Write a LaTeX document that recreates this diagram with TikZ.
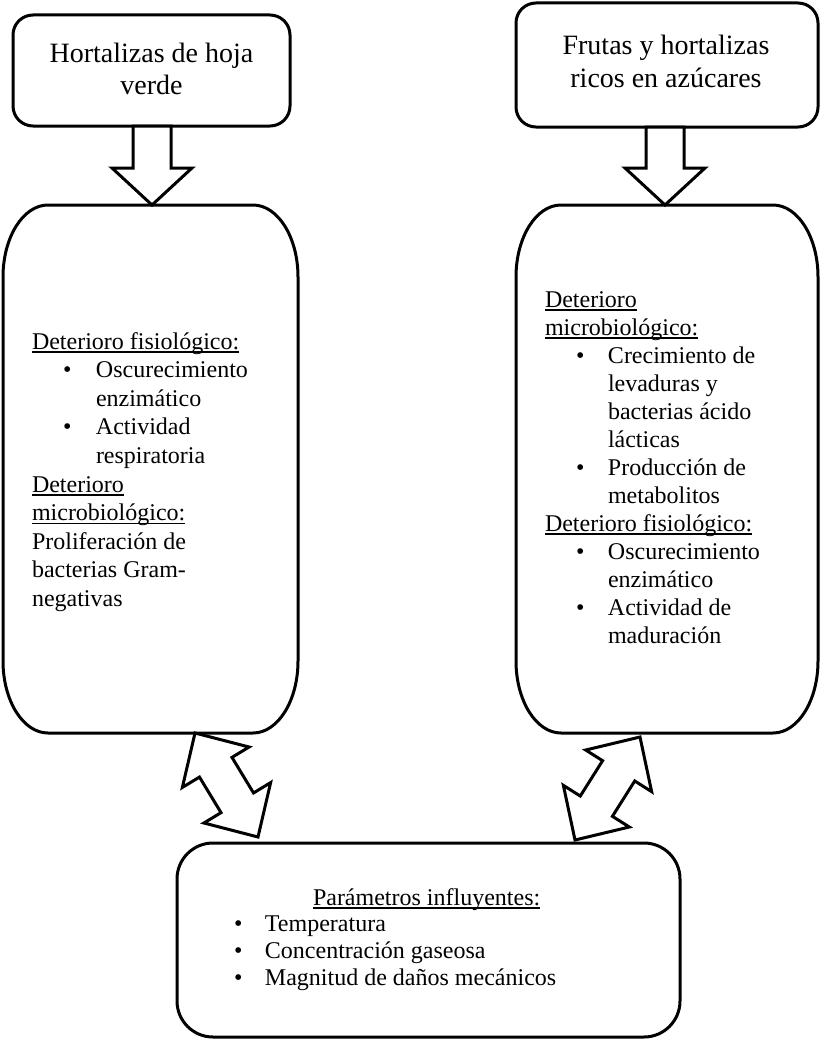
\documentclass[tikz,border=0pt]{standalone}
\usepackage{fontspec}
\setmainfont{Liberation Serif}
\usetikzlibrary{calc}
\newlength{\ulwidth}
\newcommand{\myul}[1]{\leavevmode\settowidth{\ulwidth}{#1}\rlap{\rule[-3.6pt]{\ulwidth}{1.3pt}}#1}
\tikzset{
  outline/.style={draw=black, line width=3pt},
  roundbox/.style={outline, shape=rectangle, inner sep=0pt, outer sep=0pt},
  plainbox/.style={draw=none, shape=rectangle, inner sep=0pt, outer sep=0pt},
  blockarrow/.style={draw=black, line width=3pt, fill=white, line join=miter, miter limit=10},
  txt/.style={inner sep=0pt, outer sep=0pt, text=black},
}
\newcommand{\downblock}[2]{%
  \draw[blockarrow] ($(#1)!19pt!90:(#2)$) -- ($(#2)!37pt!(#1)!19pt!-90:(#1)$)
    -- ($(#2)!37pt!(#1)!40pt!-90:(#1)$) -- (#2)
    -- ($(#2)!37pt!(#1)!40pt!90:(#1)$) -- ($(#2)!37pt!(#1)!19pt!90:(#1)$)
    -- ($(#1)!19pt!-90:(#2)$) -- cycle;}
\newcommand{\dblblock}[2]{%
  \draw[blockarrow] (#1) -- ($(#1)!40pt!(#2)!39pt!90:(#2)$) -- ($(#1)!40pt!(#2)!19pt!90:(#2)$)
    -- ($(#2)!40pt!(#1)!19pt!-90:(#1)$) -- ($(#2)!40pt!(#1)!39pt!-90:(#1)$) -- (#2)
    -- ($(#2)!40pt!(#1)!39pt!90:(#1)$) -- ($(#2)!40pt!(#1)!19pt!90:(#1)$)
    -- ($(#1)!40pt!(#2)!19pt!-90:(#2)$) -- ($(#1)!40pt!(#2)!39pt!-90:(#2)$) -- cycle;}
\newcommand{\ellframe}[3]{% node, rx, ry
  \draw[outline] ([xshift=#2]#1.north west) -- ([xshift=-#2]#1.north east)
    arc[start angle=90, end angle=0, x radius=#2, y radius=#3]
    -- ([yshift=#3]#1.south east)
    arc[start angle=0, end angle=-90, x radius=#2, y radius=#3]
    -- ([xshift=#2]#1.south west)
    arc[start angle=270, end angle=180, x radius=#2, y radius=#3]
    -- ([yshift=-#3]#1.north west)
    arc[start angle=180, end angle=90, x radius=#2, y radius=#3] -- cycle;}
\begin{document}
\begin{tikzpicture}[x=1pt, y=-1pt]
  \fill[white] (0,0) rectangle (823,1041);
  \useasboundingbox (0,0) rectangle (823,1041);

  % top boxes
  \node[roundbox, rounded corners=20pt, minimum width=277pt, minimum height=111pt] (tl) at (151.5,70.5) {};
  \node[roundbox, rounded corners=20pt, minimum width=302pt, minimum height=124pt] (tr) at (667,65) {};
  \node[txt, anchor=base] (tltext) at (151.5,63) {\parbox[t]{260pt}{\centering\fontsize{28}{32}\selectfont Hortalizas de hoja\\verde}};
  \node[txt, anchor=base] (trtext) at (666,55) {\parbox[t]{280pt}{\centering\fontsize{28}{33}\selectfont Frutas y hortalizas\\ricos en azúcares}};

  % middle boxes
  \node[plainbox, minimum width=295pt, minimum height=528pt] (ml) at (150.5,469) {};
  \node[plainbox, minimum width=302pt, minimum height=528pt] (mr) at (667,469) {};
  \ellframe{ml}{45pt}{72pt}
  \ellframe{mr}{45pt}{72pt}

  \node[txt, anchor=base west] (mltext) at (32,349) {\parbox[t]{262pt}{\raggedright\fontsize{24}{28.6}\selectfont
    \myul{Deterioro fisiológico:}\\
    \hspace*{31pt}\makebox[33pt][l]{•}Oscurecimiento\\
    \hspace*{64pt}enzimático\\
    \hspace*{31pt}\makebox[33pt][l]{•}Actividad\\
    \hspace*{64pt}respiratoria\\
    \myul{Deterioro}\\
    \myul{microbiológico:}\\
    Proliferación de\\
    bacterias Gram-\\
    negativas}};

  \node[txt, anchor=base west] (mrtext) at (545,307) {\parbox[t]{270pt}{\raggedright\fontsize{24}{28}\selectfont
    \myul{Deterioro}\\
    \myul{microbiológico:}\\
    \hspace*{31pt}\makebox[32pt][l]{•}Crecimiento de\\
    \hspace*{63pt}levaduras y\\
    \hspace*{63pt}bacterias ácido\\
    \hspace*{63pt}lácticas\\
    \hspace*{31pt}\makebox[32pt][l]{•}Producción de\\
    \hspace*{63pt}metabolitos\\
    \myul{Deterioro fisiológico:}\\
    \hspace*{31pt}\makebox[32pt][l]{•}Oscurecimiento\\
    \hspace*{63pt}enzimático\\
    \hspace*{31pt}\makebox[32pt][l]{•}Actividad de\\
    \hspace*{63pt}maduración}};

  % bottom box
  \node[roundbox, rounded corners=36pt, minimum width=503pt, minimum height=194pt] (bt) at (428.5,940) {};
  \node[txt, anchor=base west] (bttext) at (234,905) {\parbox[t]{420pt}{\raggedright\fontsize{24}{26.7}\selectfont
    \hspace*{79pt}\myul{Parámetros influyentes:}\\
    \makebox[31pt][l]{•}Temperatura\\
    \makebox[31pt][l]{•}Concentración gaseosa\\
    \makebox[31pt][l]{•}Magnitud de daños mecánicos}};

  % arrows
  \coordinate (a1s) at ([xshift=0.5pt]tl.south);
  \coordinate (a1e) at (a1s |- ml.north);
  \coordinate (a2s) at ([xshift=-2pt]tr.south);
  \coordinate (a2e) at (a2s |- mr.north);
  \downblock{a1s}{a1e}
  \downblock{a2s}{a2e}

  \coordinate (d1a) at (195,733);
  \coordinate (d1b) at (258,837);
  \coordinate (d2a) at (640,737);
  \coordinate (d2b) at (575,840);
  \dblblock{d1a}{d1b}
  \dblblock{d2a}{d2b}
\end{tikzpicture}
\end{document}
